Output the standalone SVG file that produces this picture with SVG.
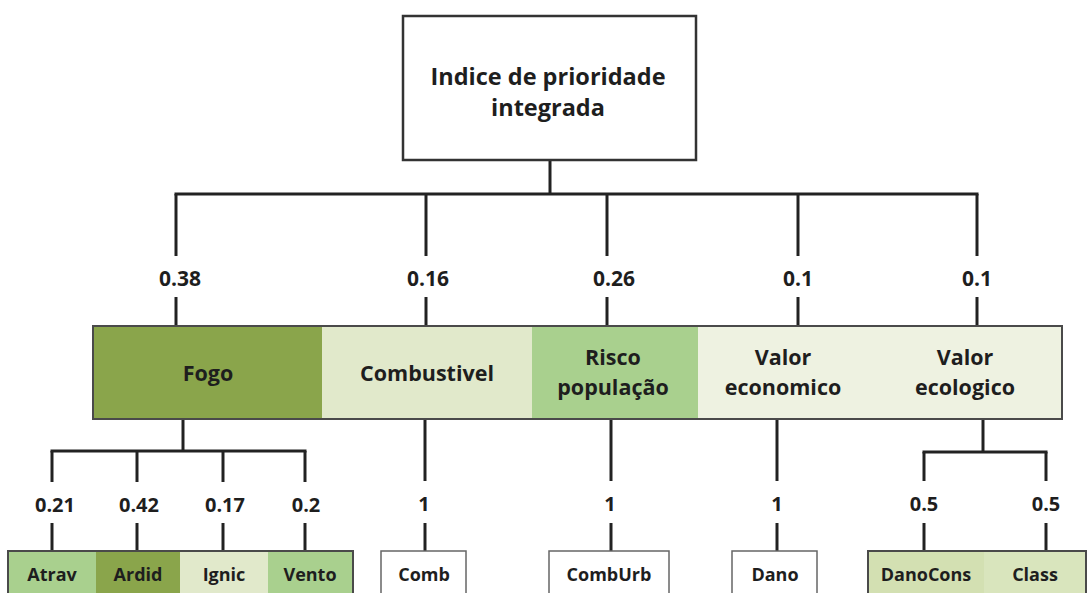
<svg xmlns="http://www.w3.org/2000/svg" width="1089" height="593" viewBox="0 0 1089 593">
<style>
text{font-family:"Open Sans","Liberation Sans",sans-serif;font-weight:700;fill:#1e1e1e;text-anchor:middle}
.t{font-size:23.5px}
.m{font-size:21.5px}
.w{font-size:21px}
.v{font-size:20px}
.s{font-size:18px}
.c line{stroke:#222;stroke-width:3;fill:none}
.bd{fill:none;stroke:#4a4a4a;stroke-width:2}
</style>
<rect width="1089" height="593" fill="#fff"/>
<g class="c" id="connectors">
<line x1="550" y1="160" x2="550" y2="195"/>
<line x1="174.5" y1="194" x2="978.5" y2="194"/>
<line x1="176" y1="194" x2="176" y2="256"/><line x1="176" y1="297" x2="176" y2="326"/>
<line x1="426" y1="194" x2="426" y2="256"/><line x1="426" y1="297" x2="426" y2="326"/>
<line x1="607" y1="194" x2="607" y2="256"/><line x1="607" y1="297" x2="607" y2="326"/>
<line x1="798" y1="194" x2="798" y2="256"/><line x1="798" y1="297" x2="798" y2="326"/>
<line x1="977" y1="194" x2="977" y2="256"/><line x1="977" y1="297" x2="977" y2="326"/>
<line x1="183" y1="419" x2="183" y2="452"/>
<line x1="50.5" y1="451" x2="306.5" y2="451"/>
<line x1="52" y1="451" x2="52" y2="482"/><line x1="52" y1="523" x2="52" y2="551"/>
<line x1="137" y1="451" x2="137" y2="482"/><line x1="137" y1="523" x2="137" y2="551"/>
<line x1="223" y1="451" x2="223" y2="482"/><line x1="223" y1="523" x2="223" y2="551"/>
<line x1="305" y1="451" x2="305" y2="482"/><line x1="305" y1="523" x2="305" y2="551"/>
<line x1="425" y1="419" x2="425" y2="481"/><line x1="425" y1="523" x2="425" y2="551"/>
<line x1="611" y1="419" x2="611" y2="481"/><line x1="611" y1="523" x2="611" y2="551"/>
<line x1="777" y1="419" x2="777" y2="481"/><line x1="777" y1="523" x2="777" y2="551"/>
<line x1="983" y1="419" x2="983" y2="453"/>
<line x1="922.5" y1="452" x2="1047.5" y2="452"/>
<line x1="924" y1="452" x2="924" y2="481"/><line x1="924" y1="523" x2="924" y2="551"/>
<line x1="1046" y1="452" x2="1046" y2="481"/><line x1="1046" y1="523" x2="1046" y2="551"/>
</g>
<g id="weights">
<text class="w" x="180" y="286">0.38</text>
<text class="w" x="428" y="286">0.16</text>
<text class="w" x="614" y="286">0.26</text>
<text class="w" x="798" y="286">0.1</text>
<text class="w" x="977" y="286">0.1</text>
<text class="v" x="55" y="512">0.21</text>
<text class="v" x="139" y="512">0.42</text>
<text class="v" x="225" y="512">0.17</text>
<text class="v" x="306" y="512">0.2</text>
<text class="v" x="424" y="511">1</text>
<text class="v" x="610" y="511">1</text>
<text class="v" x="777" y="511">1</text>
<text class="v" x="924" y="511">0.5</text>
<text class="v" x="1046" y="511">0.5</text>
</g>
<g id="root">
<rect x="403" y="16" width="293" height="144" fill="#fff" stroke="#333" stroke-width="2.5"/>
<text class="t" x="548" y="85">Indice de prioridade</text>
<text class="t" x="548" y="116">integrada</text>
</g>
<g id="fogo"><rect x="93" y="326" width="229" height="93" fill="#8aa54b"/><text class="m" x="208" y="381">Fogo</text></g>
<g id="combustivel"><rect x="322" y="326" width="210" height="93" fill="#e1e9cb"/><text class="m" x="427" y="381">Combustivel</text></g>
<g id="risco"><rect x="532" y="326" width="166" height="93" fill="#a9d08e"/><text class="m" x="613" y="365">Risco</text><text class="m" x="613" y="395">população</text></g>
<g id="valor-economico"><rect x="698" y="326" width="170" height="93" fill="#eef2e1"/><text class="m" x="783" y="365">Valor</text><text class="m" x="783" y="395">economico</text></g>
<g id="valor-ecologico"><rect x="868" y="326" width="194" height="93" fill="#eef2e1"/><text class="m" x="965" y="365">Valor</text><text class="m" x="965" y="395">ecologico</text></g>
<rect class="bd" x="93" y="326" width="969" height="93"/>
<g id="atrav"><rect x="8" y="551" width="88" height="50" fill="#a9d08e"/><text class="s" x="52" y="581">Atrav</text></g>
<g id="ardid"><rect x="96" y="551" width="84" height="50" fill="#8aa54b"/><text class="s" x="138" y="581">Ardid</text></g>
<g id="ignic"><rect x="180" y="551" width="88" height="50" fill="#e1e9cb"/><text class="s" x="224" y="581">Ignic</text></g>
<g id="vento"><rect x="268" y="551" width="85" height="50" fill="#a9d08e"/><text class="s" x="310" y="581">Vento</text></g>
<rect class="bd" x="8" y="551" width="345" height="50"/>
<g id="comb"><rect x="381" y="551" width="85" height="50" fill="#fff" stroke="#666" stroke-width="1.5"/><text class="s" x="424" y="581">Comb</text></g>
<g id="comburb"><rect x="549" y="551" width="120" height="50" fill="#fff" stroke="#666" stroke-width="1.5"/><text class="s" x="609" y="581">CombUrb</text></g>
<g id="dano"><rect x="732" y="551" width="85" height="50" fill="#fff" stroke="#666" stroke-width="1.5"/><text class="s" x="775" y="581">Dano</text></g>
<g id="danocons"><rect x="868" y="551" width="116" height="50" fill="#d3e0b2"/><text class="s" x="926" y="581">DanoCons</text></g>
<g id="class"><rect x="984" y="551" width="102" height="50" fill="#d9e5bd"/><text class="s" x="1035" y="581">Class</text></g>
<rect class="bd" x="868" y="551" width="218" height="50"/>
</svg>
